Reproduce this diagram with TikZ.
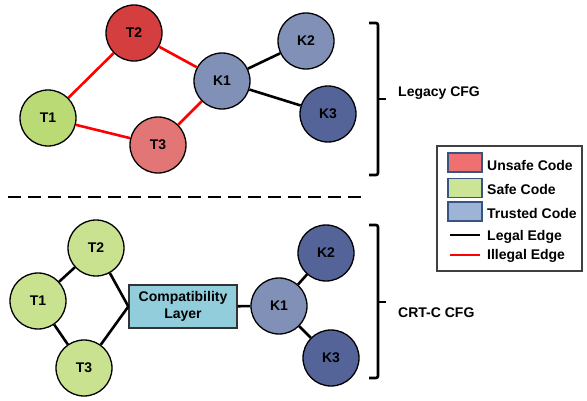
\documentclass[tikz,border=0pt]{standalone}
\usepackage{fontspec}
\setmainfont{Liberation Sans}
\definecolor{unsafeDark}{RGB}{212,62,62}
\definecolor{unsafeLight}{RGB}{226,118,118}
\definecolor{safeTop}{RGB}{186,218,118}
\definecolor{safeBot}{RGB}{200,226,144}
\definecolor{trustMid}{RGB}{128,144,182}
\definecolor{trustDark}{RGB}{84,100,152}
\definecolor{compat}{RGB}{146,205,220}
\definecolor{legUnsafe}{RGB}{238,112,112}
\definecolor{legSafe}{RGB}{204,228,150}
\definecolor{legTrust}{RGB}{158,180,215}
\definecolor{swBorder}{RGB}{56,84,130}
\begin{document}
\begin{tikzpicture}[x=1pt,y=-1pt,
  font=\fontsize{14}{16}\selectfont\bfseries,
  cnode/.style={circle,draw=black,line width=1.3pt,minimum size=56pt,inner sep=0pt},
  legal/.style={draw=black,line width=2.6pt},
  illegal/.style={draw=red,line width=2.6pt},
  bracket/.style={draw=black,line width=2.6pt,rounded corners=2pt},
  swatch/.style={draw=swBorder,line width=1.2pt,minimum width=34pt,minimum height=19pt,inner sep=0pt},
  legtext/.style={anchor=west,inner sep=0pt}]
\useasboundingbox (0,0) rectangle (587,401);
% ---- Legacy CFG ----
\node[cnode,fill=unsafeDark] (lT2) at (134,33) {T2};
\node[cnode,fill=trustMid] (lK1) at (222,81) {K1};
\node[cnode,fill=trustMid] (lK2) at (306,41) {K2};
\node[cnode,fill=safeTop] (lT1) at (48,118) {T1};
\node[cnode,fill=unsafeLight] (lT3) at (158,145) {T3};
\node[cnode,fill=trustDark] (lK3) at (328,114) {K3};
\draw[illegal] (lT1) -- (lT2);
\draw[illegal] (lT2) -- (lK1);
\draw[illegal] (lT1) -- (lT3);
\draw[illegal] (lT3) -- (lK1);
\draw[legal] (lK1) -- (lK2);
\draw[legal] (lK1) -- (lK3);
% bracket top
\draw[bracket] (369,23) -- (378,23) -- (378,175) -- (369,175);
\draw[bracket] (378,99) -- (386,99);
\node[legtext] (lbl1) at (398,93) {Legacy CFG};
% dashed separator
\coordinate (dA) at (8,197);
\coordinate (dB) at (366,197);
\draw[black,line width=2.6pt,dash pattern=on 13pt off 7pt] (dA) -- (dB);
% ---- CRT-C CFG ----
\node[cnode,fill=safeBot] (cT2) at (96,248) {T2};
\node[cnode,fill=safeBot] (cT1) at (38,301) {T1};
\node[cnode,fill=safeBot] (cT3) at (84,368) {T3};
\node[draw=black!80,line width=1.3pt,fill=compat,minimum width=108pt,minimum height=43pt,inner sep=0pt,align=center,font=\fontsize{14}{17}\selectfont\bfseries] (cL) at (183,306.5) {Compatibility\\Layer};
\node[cnode,fill=trustMid] (cK1) at (279,306) {K1};
\node[cnode,fill=trustDark] (cK2) at (326,253) {K2};
\node[cnode,fill=trustDark] (cK3) at (331,358) {K3};
\draw[legal] (cT1) -- (cT2);
\draw[legal] (cT1) -- (cT3);
\draw[legal] (cT2) -- (cL.west);
\draw[legal] (cT3) -- (cL.west);
\draw[legal] (cL) -- (cK1);
\draw[legal] (cK1) -- (cK2);
\draw[legal] (cK1) -- (cK3);
% bracket bottom
\draw[bracket] (369,225) -- (378,225) -- (378,378) -- (369,378);
\draw[bracket] (378,302) -- (386,302);
\node[legtext] (lbl2) at (398,313) {CRT-C CFG};
% ---- legend ----
\node[draw=black!75,line width=1.6pt,minimum width=145pt,minimum height=125pt,inner sep=0pt] (leg) at (509.5,208.5) {};
\node[swatch,fill=legUnsafe] (s1) at (465,162.5) {};
\node[swatch,fill=legSafe] (s2) at (465,188) {};
\node[swatch,fill=legTrust] (s3) at (465,211.5) {};
\coordinate (g1a) at (450,235);
\coordinate (g1b) at (480,235);
\coordinate (g2a) at (450,255);
\coordinate (g2b) at (480,255);
\draw[legal] (g1a) -- (g1b);
\draw[illegal] (g2a) -- (g2b);
\node[legtext] (t1) at (487,165) {Unsafe Code};
\node[legtext] (t2) at (487,189) {Safe Code};
\node[legtext] (t3) at (487,213) {Trusted Code};
\node[legtext] (t4) at (487,237) {Legal Edge};
\node[legtext] (t5) at (487,256) {Illegal Edge};
\end{tikzpicture}
\end{document}
